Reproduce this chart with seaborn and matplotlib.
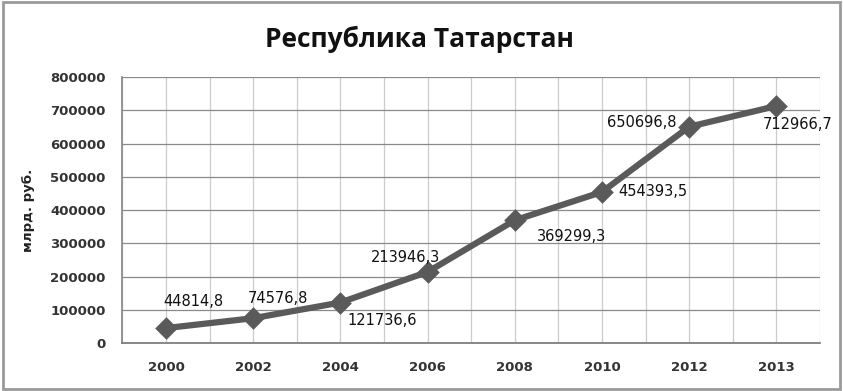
import matplotlib
matplotlib.use('Agg')
import matplotlib.pyplot as plt
import matplotlib.patches as mpatches
from matplotlib.ticker import MultipleLocator
import seaborn as sns

years = ['2000', '2002', '2004', '2006', '2008', '2010', '2012', '2013']
values = [44814.8, 74576.8, 121736.6, 213946.3, 369299.3, 454393.5, 650696.8, 712966.7]
labels = ['44814,8', '74576,8', '121736,6', '213946,3', '369299,3', '454393,5', '650696,8', '712966,7']
# label offsets in points (dx, dy) and horizontal alignment
offsets = [(-2, 19, 'left'), (-4, 14, 'left'), (5, -13, 'left'), (9, 10, 'right'),
           (16, -12, 'left'), (12, 0, 'left'), (-9, 3, 'right'), (-10, -13, 'left')]

sns.set_theme(style='white')
plt.rcParams['font.family'] = ['DejaVu Sans']

fig = plt.figure(figsize=(8.43, 3.91), dpi=100)
ax = fig.add_axes([0.1453, 0.1228, 0.8274, 0.680])

sns.pointplot(x=years, y=values, ax=ax, color='#5a5a5a', markers='D',
              markersize=8, linewidth=4.5, zorder=3)

for i, (lab, (dx, dy, ha)) in enumerate(zip(labels, offsets)):
    ax.annotate(lab, (i, values[i]), xytext=(dx, dy), textcoords='offset points',
                ha=ha, va='center', fontsize=10.5, color='#111111', zorder=4)

ax.set_xlim(-0.5, len(years) - 0.5)
ax.set_ylim(0, 800000)
ax.yaxis.set_major_locator(MultipleLocator(100000))
ax.xaxis.set_minor_locator(MultipleLocator(0.5))
ax.grid(axis='y', which='major', color='#8a8a8a', linewidth=0.9)
ax.grid(axis='x', which='both', color='#cccccc', linewidth=0.9)
ax.set_axisbelow(True)
for side in ['top', 'right']:
    ax.spines[side].set_visible(False)
ax.spines['left'].set_color('#8a8a8a')
ax.spines['bottom'].set_color('#7a7a7a')
ax.tick_params(axis='both', which='both', length=0, labelsize=9.5, colors='#333333')
ax.tick_params(axis='x', pad=13)
ax.tick_params(axis='y', pad=12)
for t in ax.get_yticklabels() + ax.get_xticklabels():
    t.set_fontweight('bold')
ax.set_ylabel('млрд. руб.', fontsize=9.5, fontweight='bold', color='#222222')
ax.yaxis.set_label_coords(-0.125, 0.5)
ax.set_xlabel('')

fig.text(0.498, 0.898, 'Республика Татарстан', ha='center', va='center',
         fontsize=19, fontweight='bold', color='#111111',
         family=['Open Sans', 'DejaVu Sans'])

fig.patches.append(mpatches.Rectangle((0.003, 0.005), 0.994, 0.99, transform=fig.transFigure,
                                      fill=False, edgecolor='#9a9a9a', linewidth=2))

fig.savefig('out.png', dpi=100)
